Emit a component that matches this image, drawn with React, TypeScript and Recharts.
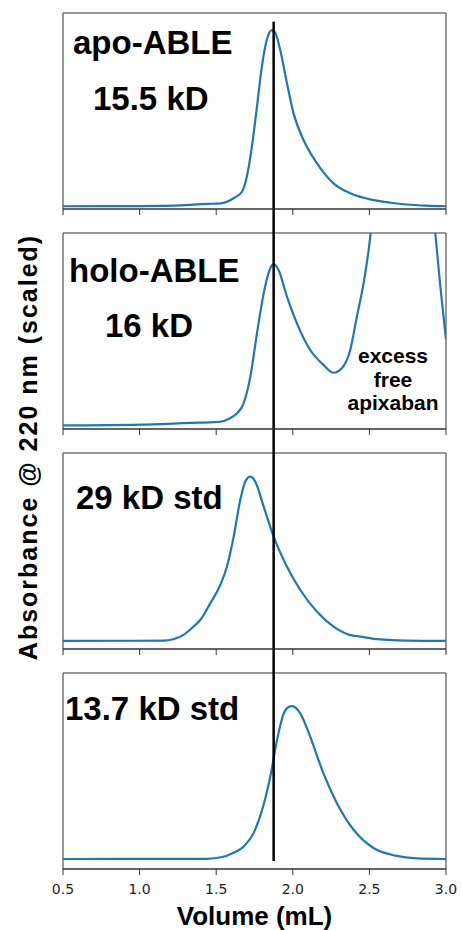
import React from "react";
import {
  LineChart,
  Line,
  XAxis,
  YAxis,
  ReferenceArea,
  ReferenceLine,
} from "recharts";

// elution volume (mL) vs. scaled absorbance, one trace per panel
const apoVolume = [0.5, 1.0, 1.3, 1.44, 1.527, 1.614, 1.668, 1.7, 1.733, 1.766, 1.798, 1.83, 1.863, 1.885, 1.918, 1.962, 2.005, 2.07, 2.158, 2.266, 2.375, 2.53, 2.64, 2.745, 2.87, 3.0];
const apoSignal = [0.014, 0.015, 0.02, 0.026, 0.029, 0.055, 0.088, 0.165, 0.318, 0.522, 0.726, 0.862, 0.913, 0.9, 0.811, 0.641, 0.488, 0.352, 0.233, 0.131, 0.08, 0.045, 0.032, 0.023, 0.017, 0.014];

const holoVolume = [0.5, 1.005, 1.33, 1.48, 1.527, 1.59, 1.636, 1.679, 1.723, 1.766, 1.81, 1.853, 1.875, 1.907, 1.962, 2.027, 2.114, 2.2, 2.266, 2.32, 2.375, 2.418, 2.462, 2.495, 2.55, 2.65, 2.75, 2.85, 2.9, 2.93, 2.963, 3.0];
const holoSignal = [0.018, 0.022, 0.031, 0.035, 0.037, 0.055, 0.08, 0.131, 0.267, 0.488, 0.692, 0.82, 0.842, 0.811, 0.675, 0.539, 0.403, 0.327, 0.287, 0.31, 0.403, 0.573, 0.743, 0.913, 1.3, 1.8, 2.0, 1.7, 1.25, 1.0, 0.728, 0.456];

const std29Volume = [0.5, 1.157, 1.22, 1.287, 1.35, 1.396, 1.461, 1.527, 1.57, 1.614, 1.657, 1.69, 1.723, 1.755, 1.81, 1.875, 1.962, 2.049, 2.158, 2.266, 2.375, 2.44, 2.527, 2.745, 3.0];
const std29Signal = [0.041, 0.043, 0.05, 0.072, 0.113, 0.148, 0.233, 0.327, 0.42, 0.573, 0.76, 0.854, 0.879, 0.854, 0.726, 0.573, 0.42, 0.301, 0.19, 0.114, 0.071, 0.063, 0.052, 0.043, 0.041];

const std137Volume = [0.5, 1.44, 1.5, 1.57, 1.62, 1.68, 1.744, 1.8, 1.853, 1.897, 1.94, 1.97, 1.995, 2.02, 2.05, 2.114, 2.2, 2.288, 2.397, 2.527, 2.67, 2.81, 3.0];
const std137Signal = [0.051, 0.052, 0.056, 0.068, 0.085, 0.115, 0.183, 0.302, 0.471, 0.658, 0.793, 0.825, 0.831, 0.822, 0.793, 0.674, 0.488, 0.336, 0.2, 0.107, 0.068, 0.054, 0.051];

const volumeTicks = [0.5, 1.0, 1.5, 2.0, 2.5, 3.0];
const markerVolume = 1.875;

const zip = (xs: number[], ys: number[]) => xs.map((v, i) => ({ v, a: ys[i] }));

type PanelText = { text: string; dx: number; dy: number; size: number; anchor?: "start" | "middle" };

const panels: { rows: { v: number; a: number }[]; texts: PanelText[] }[] = [
  {
    rows: zip(apoVolume, apoSignal),
    texts: [
      { text: "apo-ABLE", dx: 10, dy: 41, size: 33 },
      { text: "15.5 kD", dx: 30, dy: 97, size: 33 },
    ],
  },
  {
    rows: zip(holoVolume, holoSignal),
    texts: [
      { text: "holo-ABLE", dx: 6, dy: 49, size: 33 },
      { text: "16 kD", dx: 42, dy: 104, size: 33 },
      { text: "excess", dx: 330, dy: 130, size: 21, anchor: "middle" },
      { text: "free", dx: 330, dy: 154, size: 21, anchor: "middle" },
      { text: "apixaban", dx: 330, dy: 177, size: 21, anchor: "middle" },
    ],
  },
  {
    rows: zip(std29Volume, std29Signal),
    texts: [{ text: "29 kD std", dx: 13, dy: 56, size: 33 }],
  },
  {
    rows: zip(std137Volume, std137Signal),
    texts: [{ text: "13.7 kD std", dx: 2, dy: 47, size: 33 }],
  },
];

const FONT = "'Liberation Sans', Arial, Helvetica, sans-serif";
const SPINE = "#333";

// volume tick label, matplotlib-style DejaVu digits
const VolumeTick = (p: any) => (
  <text
    x={p.x}
    y={p.y}
    dy="0.73em"
    textAnchor="middle"
    fontFamily="'DejaVu Sans', sans-serif"
    fontSize={14}
    fill="#222"
  >
    {Number(p.payload.value).toFixed(1)}
  </text>
);

function Panel({ index }: { index: number }) {
  const { rows, texts } = panels[index];
  const last = index === panels.length - 1;
  const height = last ? 261 : 220;
  const axisHeight = last ? 61 : 20;
  const lineTop = index === 0 ? 0.956 : 1.15;
  const lineBottom = last ? 0.041 : -0.15;

  return (
    <div style={{ position: "absolute", left: 0, top: 9 + 220 * index }}>
      <LineChart
        width={462}
        height={height}
        data={rows}
        margin={{ top: 4, right: 16, bottom: 0, left: 63 }}
      >
        <XAxis
          dataKey="v"
          type="number"
          domain={[0.5, 3.0]}
          ticks={volumeTicks}
          allowDataOverflow
          height={axisHeight}
          axisLine={{ stroke: SPINE }}
          tickLine={{ stroke: SPINE }}
          tickSize={6}
          tickMargin={9}
          tick={last ? VolumeTick : () => <g />}
          label={
            last
              ? (p: any) => {
                  const vb = p.viewBox;
                  return (
                    <text
                      x={vb.x + vb.width / 2}
                      y={vb.y + 56}
                      textAnchor="middle"
                      fontFamily={FONT}
                      fontWeight="bold"
                      fontSize={26}
                      fill="#000"
                    >
                      Volume (mL)
                    </text>
                  );
                }
              : undefined
          }
        />
        <YAxis hide type="number" domain={[0, 1]} allowDataOverflow />
        <ReferenceArea
          x1={0.5}
          x2={3.0}
          y1={0}
          y2={1}
          fill="none"
          stroke={SPINE}
          strokeWidth={1}
          label={(p: any) => {
            const vb = p.viewBox;
            return (
              <g>
                {texts.map((t) => (
                  <text
                    key={t.text}
                    x={vb.x + t.dx}
                    y={vb.y + t.dy}
                    textAnchor={t.anchor || "start"}
                    fontFamily={FONT}
                    fontWeight="bold"
                    fontSize={t.size}
                    fill="#000"
                  >
                    {t.text}
                  </text>
                ))}
              </g>
            );
          }}
        />
        <Line
          type="monotone"
          dataKey="a"
          stroke="#1f77b4"
          strokeWidth={2.2}
          dot={false}
          isAnimationActive={false}
        />
        <ReferenceLine
          segment={[
            { x: markerVolume, y: lineTop },
            { x: markerVolume, y: lineBottom },
          ]}
          ifOverflow="visible"
          stroke="#000"
          strokeWidth={2.5}
        />
      </LineChart>
    </div>
  );
}

export default function App() {
  return (
    <div
      style={{
        position: "absolute",
        left: 0,
        top: 0,
        width: 462,
        height: 930,
        background: "#fff",
        overflow: "hidden",
      }}
    >
      {panels.map((_, i) => (
        <Panel key={i} index={i} />
      ))}
      <div
        style={{
          position: "absolute",
          left: 28 - 215,
          top: 447 - 15,
          width: 430,
          height: 30,
          lineHeight: "30px",
          textAlign: "center",
          transform: "rotate(-90deg)",
          fontFamily: FONT,
          fontWeight: "bold",
          fontSize: 25,
          letterSpacing: 2,
          color: "#000",
          whiteSpace: "nowrap",
        }}
      >
        Absorbance @ 220 nm (scaled)
      </div>
    </div>
  );
}
